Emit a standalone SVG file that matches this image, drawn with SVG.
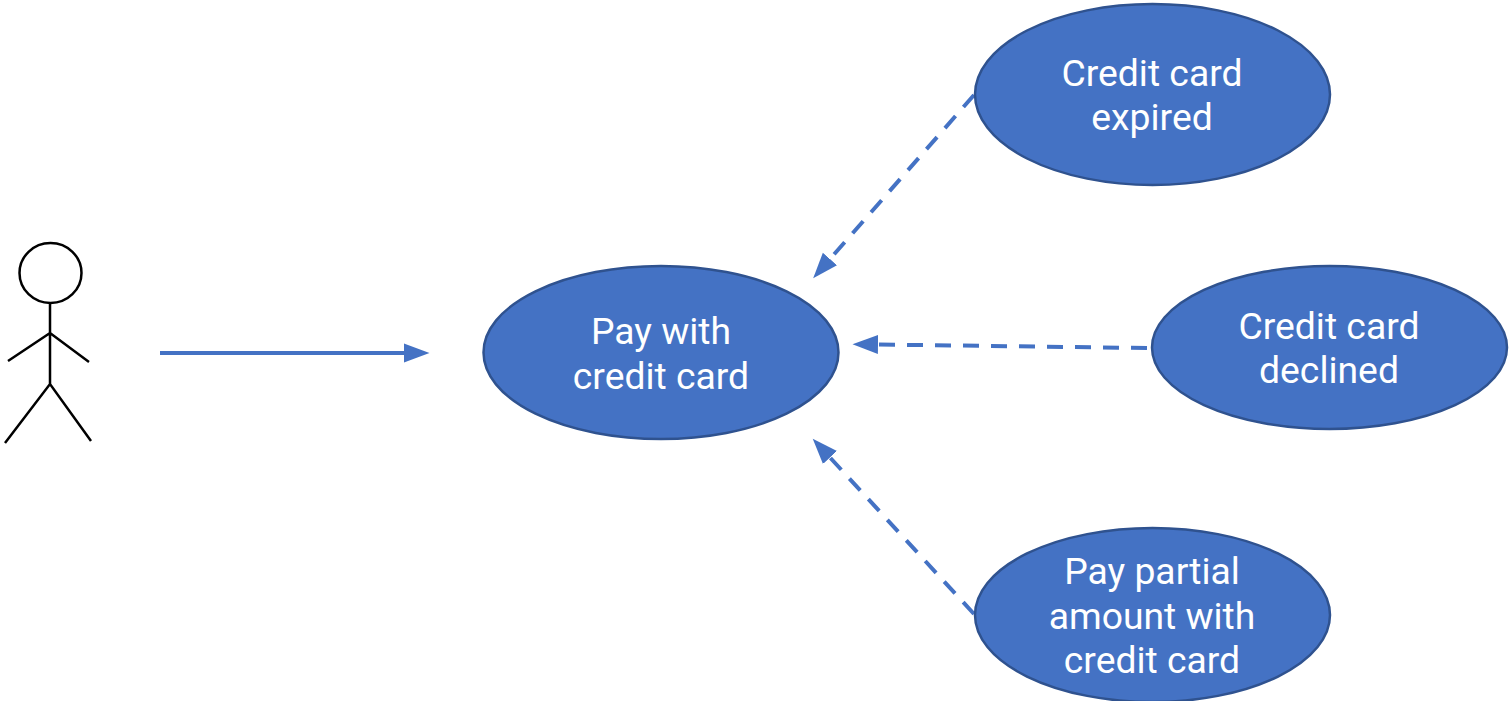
<svg xmlns="http://www.w3.org/2000/svg" width="1509" height="701" viewBox="0 0 1509 701">
<style>
.uc{fill:#4472c4;stroke:#2f528f;stroke-width:2.5}
.t{font-family:Roboto,"Liberation Sans",sans-serif;font-size:37.3px;fill:#fff;text-anchor:middle}
.s{fill:none;stroke:#000;stroke-width:2.5}
.c{fill:none;stroke:#4472c4;stroke-width:4}
.d{stroke-dasharray:16 12}
</style>
<defs><marker id="a" markerUnits="userSpaceOnUse" markerWidth="26" markerHeight="20" refX="0" refY="10" orient="auto"><path d="M0 0.5L25.5 10L0 19.5Z" fill="#4472c4"/></marker></defs>
<rect width="1509" height="701" fill="#fff"/>
<g id="actor" class="s"><ellipse cx="50.5" cy="273" rx="31" ry="30"/><path d="M50 303V384M8 361L50 333L89 362M5 443L50 384L91 441"/></g>
<g id="connectors">
<path class="c" d="M160 353H404" marker-end="url(#a)"/>
<path class="c d" d="M974 95L830 259" marker-end="url(#a)"/>
<path class="c d" d="M1147 348L878 344.500" marker-end="url(#a)"/>
<path class="c d" d="M974 614L830 457.500" marker-end="url(#a)"/>
</g>
<g id="pay"><ellipse class="uc" cx="661" cy="352.500" rx="177.500" ry="86.500"/><text class="t" x="661" y="344">Pay with</text><text class="t" x="661" y="389">credit card</text></g>
<g id="expired"><ellipse class="uc" cx="1152.500" cy="94.500" rx="177.500" ry="90.500"/><text class="t" x="1152" y="86">Credit card</text><text class="t" x="1152" y="130">expired</text></g>
<g id="declined"><ellipse class="uc" cx="1329.500" cy="347.500" rx="177.500" ry="81.500"/><text class="t" x="1329" y="339">Credit card</text><text class="t" x="1329" y="383">declined</text></g>
<g id="partial"><ellipse class="uc" cx="1152.500" cy="615" rx="177.500" ry="87"/><text class="t" x="1152" y="584">Pay partial</text><text class="t" x="1152" y="629">amount with</text><text class="t" x="1152" y="673">credit card</text></g>
</svg>
